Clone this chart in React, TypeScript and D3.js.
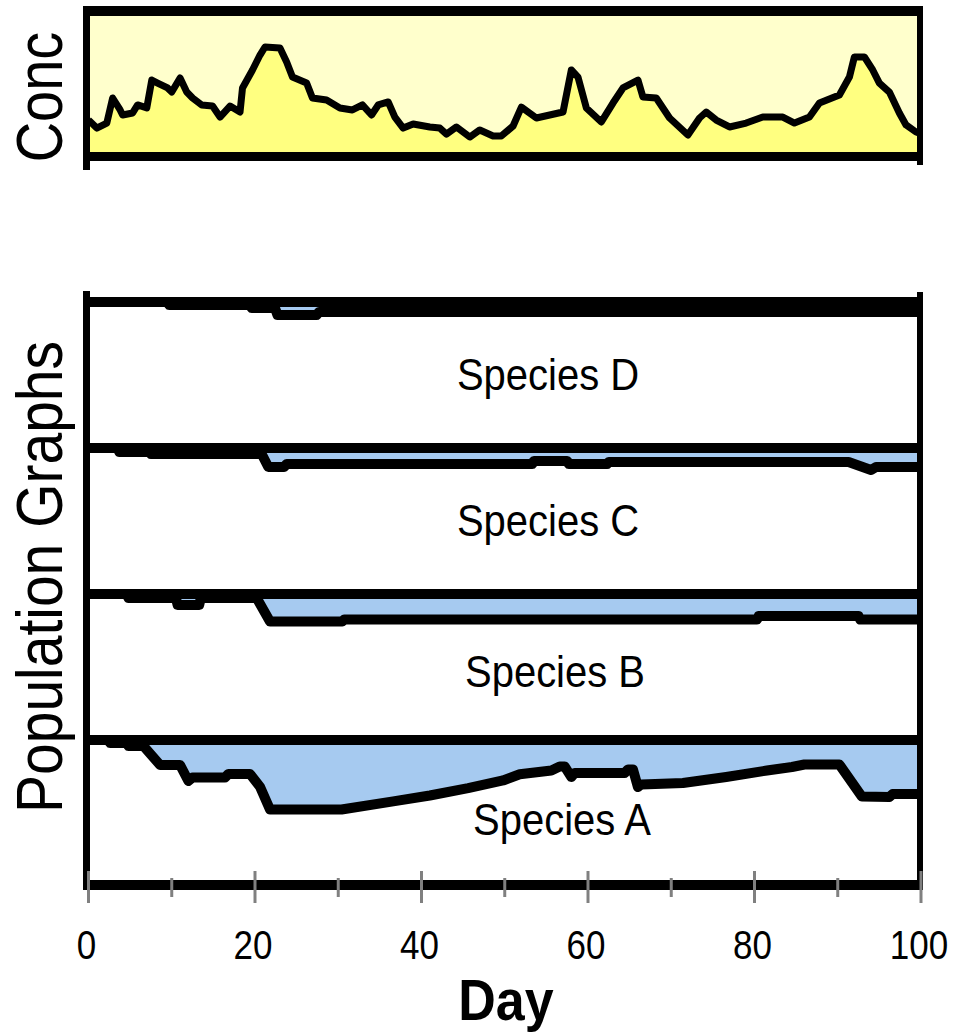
import React from 'react';
import * as d3 from 'd3';

// ---------- data ----------
const dayTicksMajor = [0, 20, 40, 60, 80, 100];
const dayTicksMinor = [10, 30, 50, 70, 90];

const concDays = [
  0, 1.0, 2.2, 2.9, 3.8, 4.1, 5.3, 5.9, 7.0, 7.6, 8.3, 9.5, 10.0, 11.0, 11.8, 12.5, 13.6, 14.9,
  15.8, 17.0, 18.2, 18.5, 19.7, 20.6, 21.2, 23.0, 23.8, 24.5, 26.2, 26.9, 28.6, 30.2, 31.7, 32.9,
  34.0, 34.8, 36.0, 36.8, 37.8, 39.0, 41.0, 42.2, 43.0, 44.2, 45.8, 47.0, 48.6, 49.6, 51.0, 52.0,
  53.8, 55.4, 57.0, 58.0, 58.8, 59.8, 61.6, 63.0, 64.2, 66.0, 66.6, 68.2, 69.8, 72.0, 73.4, 74.2,
  75.4, 77.0, 79.0, 81.0, 83.4, 84.8, 86.6, 87.8, 90.2, 91.4, 92.0, 93.2, 94.2, 95.0, 96.2, 97.4,
  98.2, 99.4, 100,
];
const concValues = [
  23.5, 17.6, 21.3, 39.7, 30.9, 27.2, 28.7, 34.6, 32.4, 52.9, 50.7, 47.1, 44.1, 54.4, 44.1, 39.7, 34.6, 33.8,
  25.7, 33.8, 29.4, 47.1, 60.3, 71.3, 77.2, 76.5, 66.2, 55.1, 50.7, 39.7, 38.2, 32.4, 30.9, 34.6,
  27.2, 34.6, 36.8, 25.7, 17.6, 20.6, 18.4, 17.6, 13.2, 18.4, 11.0, 16.2, 11.8, 11.8, 19.1, 33.0,
  25.0, 27.2, 29.4, 60.3, 55.1, 32.4, 22.1, 36.0, 47.1, 52.9, 40.4, 39.7, 25.0, 12.5, 25.0, 29.4,
  23.5, 18.4, 21.3, 25.7, 25.7, 21.3, 25.7, 36.0, 41.9, 55.1, 69.9, 69.9, 60.3, 50.7, 44.1, 28.7,
  19.9, 14.7, 13.5,
];

const speciesNames = ['Species D', 'Species C', 'Species B', 'Species A'];

// population (% of control) by day
const speciesDDays = [0, 9.5, 9.7, 19.4, 19.6, 22.4, 22.7, 27.4, 27.7, 100];
const speciesDValues = [100, 100, 97.9, 97.9, 95.9, 95.9, 91.1, 91.1, 93.2, 93.2];

const speciesCDays = [0, 3.5, 3.7, 7.3, 7.5, 20.8, 21.6, 23.5, 23.8, 53.3, 53.5, 57.5, 57.7, 62.3, 62.5, 91.3, 94.0, 94.6, 100];
const speciesCValues = [100, 100, 97.3, 97.3, 95.9, 95.9, 87.0, 87.0, 89.0, 89.0, 91.1, 91.1, 89.0, 89.0, 90.4, 90.4, 84.9, 87.0, 87.0];

const speciesBDays = [0, 4.6, 4.8, 10.5, 10.7, 13.3, 13.5, 20.2, 21.8, 30.5, 30.7, 80.3, 80.5, 92.5, 92.7, 100];
const speciesBValues = [100, 100, 97.3, 97.3, 92.5, 92.5, 97.3, 97.3, 81.2, 81.2, 82.5, 82.5, 84.9, 84.9, 82.5, 82.5];

const speciesADays = [
  0, 2.4, 2.6, 4.6, 4.8, 6.6, 8.6, 11.0, 12.0, 12.5, 16.4, 16.8, 19.4, 20.6, 21.8, 30.4, 36.6, 41.0,
  45.6, 49.8, 51.8, 55.6, 56.6, 57.2, 58.0, 58.4, 64.4, 64.8, 65.4, 66.0, 66.4, 71.4, 76.6, 81.5,
  84.5, 86.0, 90.2, 92.9, 96.2, 96.6, 100,
];
const speciesAValues = [
  100, 100, 97.9, 97.9, 95.9, 95.9, 82.9, 82.9, 71.9, 74.3, 74.3, 76.7, 76.7, 68.0, 52.4, 52.4, 58.0, 62.0,
  67.0, 72.3, 76.5, 79.1, 81.8, 81.8, 74.7, 77.4, 77.4, 79.8, 79.8, 67.8, 69.5, 70.5, 74.7, 79.1,
  81.5, 83.2, 83.2, 61.3, 61.0, 63.0, 63.0,
];

const speciesSeries = [
  { days: speciesDDays, values: speciesDValues },
  { days: speciesCDays, values: speciesCValues },
  { days: speciesBDays, values: speciesBValues },
  { days: speciesADays, values: speciesAValues },
];

// ---------- layout ----------
const W = 954;
const H = 1036;
const FONT = "'Liberation Sans', Arial, sans-serif";
const BLUE = '#A6CAF0';
const CONC_BG = '#FFFFCC';
const CONC_FILL = '#FFFF80';
const TICK_GRAY = '#808080';

const plotLeft = 90;
const plotRight = 917;
const baselines = [302, 448, 594, 740];
const panelH = 146;
const axisY = 885;
const labelPos = [
  { x: 548, y: 390 },
  { x: 548, y: 536 },
  { x: 555, y: 687 },
  { x: 562, y: 835 },
];

export default function App() {
  const x = d3.scaleLinear().domain([0, 100]).range([88.5, 921]);
  const yConc = d3.scaleLinear().domain([0, 100]).range([152, 16]);

  const concPts: [number, number][] = concDays.map((d, i) => [d, concValues[i]]);
  const concLine = d3.line<[number, number]>().x((d) => x(d[0])).y((d) => yConc(d[1]));
  const concArea = d3
    .area<[number, number]>()
    .x((d) => x(d[0]))
    .y0(yConc(0))
    .y1((d) => yConc(d[1]));

  return (
    <svg
      width={W}
      height={H}
      viewBox={`0 0 ${W} ${H}`}
      style={{ position: 'absolute', left: 0, top: 0, background: '#fff' }}
    >
      <defs>
        <clipPath id="concClip">
          <rect x={plotLeft} y={16} width={plotRight - plotLeft} height={136} />
        </clipPath>
        <clipPath id="popClip">
          <rect x={plotLeft} y={290} width={plotRight - plotLeft} height={600} />
        </clipPath>
      </defs>

      {/* ---------- Concentration panel ---------- */}
      <rect x={plotLeft} y={16} width={plotRight - plotLeft} height={136} fill={CONC_BG} />
      <g clipPath="url(#concClip)">
        <path d={concArea(concPts) || ''} fill={CONC_FILL} />
        <path
          d={concLine(concPts) || ''}
          fill="none"
          stroke="#000"
          strokeWidth={7}
          strokeLinejoin="round"
        />
      </g>
      <line x1={83} x2={923} y1={11} y2={11} stroke="#000" strokeWidth={10} />
      <line x1={83} x2={923} y1={156.5} y2={156.5} stroke="#000" strokeWidth={9} />
      <line x1={86.5} x2={86.5} y1={6} y2={170} stroke="#000" strokeWidth={7} />
      <line x1={920} x2={920} y1={6} y2={165} stroke="#000" strokeWidth={6} />

      <g transform="translate(62,97) rotate(-90) scale(1,1.17)">
        <text x={0} y={0} textAnchor="middle" fontFamily={FONT} fontSize={56} fill="#000">
          Conc
        </text>
      </g>

      {/* ---------- Population panels ---------- */}
      <g clipPath="url(#popClip)">
        {speciesSeries.map((s, i) => {
          const b = baselines[i];
          const ys = d3.scaleLinear().domain([0, 100]).range([b + panelH, b]);
          const pts: [number, number][] = s.days.map((d, j) => [d, s.values[j]]);
          const area = d3
            .area<[number, number]>()
            .x((d) => x(d[0]))
            .y0(ys(100))
            .y1((d) => ys(d[1]));
          const line = d3.line<[number, number]>().x((d) => x(d[0])).y((d) => ys(d[1]));
          return (
            <g key={speciesNames[i]}>
              <path d={area(pts) || ''} fill={BLUE} />
              <path
                d={line(pts) || ''}
                fill="none"
                stroke="#000"
                strokeWidth={10}
                strokeLinejoin="round"
              />
            </g>
          );
        })}
      </g>
      {baselines.map((b) => (
        <line key={b} x1={86} x2={920} y1={b} y2={b} stroke="#000" strokeWidth={10} />
      ))}
      <line x1={86.5} x2={86.5} y1={291} y2={890} stroke="#000" strokeWidth={7} />
      <line x1={920} x2={920} y1={292} y2={890} stroke="#000" strokeWidth={6} />
      <line x1={86} x2={923} y1={axisY} y2={axisY} stroke="#000" strokeWidth={10} />

      {speciesNames.map((name, i) => (
        <g key={name} transform={`translate(${labelPos[i].x},${labelPos[i].y}) scale(1,1.1)`}>
          <text x={0} y={0} textAnchor="middle" fontFamily={FONT} fontSize={40} fill="#000">
            {name}
          </text>
        </g>
      ))}

      {/* ---------- X axis ---------- */}
      {dayTicksMajor.map((t) => (
        <line key={`M${t}`} x1={x(t)} x2={x(t)} y1={871} y2={903} stroke={TICK_GRAY} strokeWidth={3} />
      ))}
      {dayTicksMinor.map((t) => (
        <line key={`m${t}`} x1={x(t)} x2={x(t)} y1={878} y2={897} stroke={TICK_GRAY} strokeWidth={3} />
      ))}
      {dayTicksMajor.map((t) => (
        <g key={`L${t}`} transform={`translate(${x(t) - 2},959) scale(1,1.17)`}>
          <text x={0} y={0} textAnchor="middle" fontFamily={FONT} fontSize={35} fill="#000">
            {t}
          </text>
        </g>
      ))}
      <g transform="translate(506,1020) scale(1,1.12)">
        <text x={0} y={0} textAnchor="middle" fontFamily={FONT} fontSize={52} fontWeight="bold" fill="#000">
          Day
        </text>
      </g>

      <g transform="translate(62,577) rotate(-90) scale(1,1.15)">
        <text x={0} y={0} textAnchor="middle" fontFamily={FONT} fontSize={57} fill="#000">
          Population Graphs
        </text>
      </g>
    </svg>
  );
}
